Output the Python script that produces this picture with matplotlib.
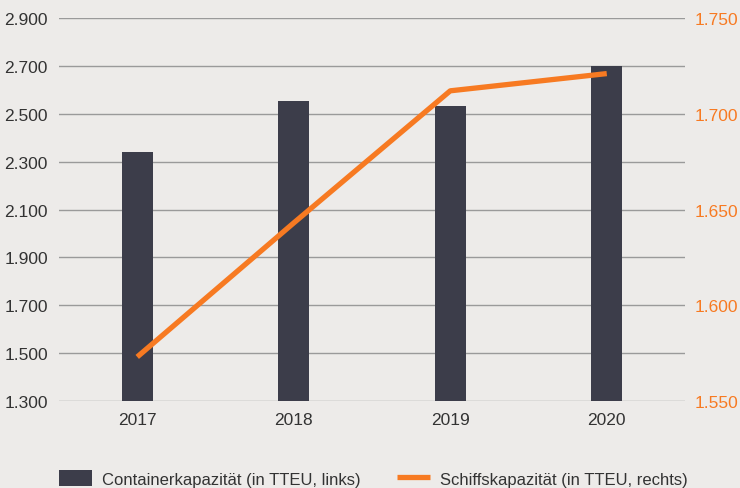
import matplotlib.pyplot as plt
from matplotlib.ticker import FuncFormatter

years = ["2017", "2018", "2019", "2020"]
container = [2340, 2553, 2532, 2700]
schiffe = [1573, 1643, 1712, 1721]

left_ticks = [1300, 1500, 1700, 1900, 2100, 2300, 2500, 2700, 2900]
right_ticks = [1550, 1600, 1650, 1700, 1750]

bg = "#edebe9"
bar_col = "#3c3d4a"
orange = "#f77a22"
txt = "#333333"

plt.rcParams['font.family'] = ['Liberation Sans', 'DejaVu Sans']


def de_fmt(v, pos):
    return f"{int(v):,}".replace(",", ".")


fig = plt.figure(figsize=(7.4, 4.89), dpi=100, facecolor=bg)
ax = fig.add_axes([0.0797, 0.178, 0.846, 0.783])
ax.set_facecolor(bg)
ax2 = ax.twinx()

x = range(len(years))
ax.bar(x, container, width=0.2, color=bar_col, zorder=2,
       label="Containerkapazität (in TTEU, links)")
ax.set_ylim(1300, 2900)
ax.set_xlim(-0.5, 3.5)
ax.set_yticks(left_ticks)
ax.yaxis.set_major_formatter(FuncFormatter(de_fmt))
ax.grid(axis='y', color='#9a9a9a', linewidth=1.0, zorder=0)
ax.set_axisbelow(True)
ax.set_xticks(list(x))
ax.set_xticklabels(years)
ax.tick_params(axis='both', length=0, labelsize=12.5, colors=txt)
ax.tick_params(axis='x', pad=8)
ax.tick_params(axis='y', pad=8)

ax2.plot(x, schiffe, color=orange, linewidth=3.8, solid_capstyle='butt',
         zorder=3, label="Schiffskapazität (in TTEU, rechts)")
ax2.set_ylim(1550, 1750)
ax2.set_yticks(right_ticks)
ax2.yaxis.set_major_formatter(FuncFormatter(de_fmt))
ax2.tick_params(axis='y', length=0, labelsize=12.5, colors=orange, pad=7)

for a in (ax, ax2):
    for s in a.spines.values():
        s.set_visible(False)

h1, l1 = ax.get_legend_handles_labels()
h2, l2 = ax2.get_legend_handles_labels()
leg = fig.legend(h1 + h2, l1 + l2, loc='lower left', bbox_to_anchor=(0.06, -0.028),
                 ncol=2, frameon=False, fontsize=12, handlelength=1.95,
                 handleheight=1.1, handletextpad=0.6, columnspacing=2.2)
for t in leg.get_texts():
    t.set_color(txt)

fig.savefig("out.png", dpi=100, facecolor=bg)
